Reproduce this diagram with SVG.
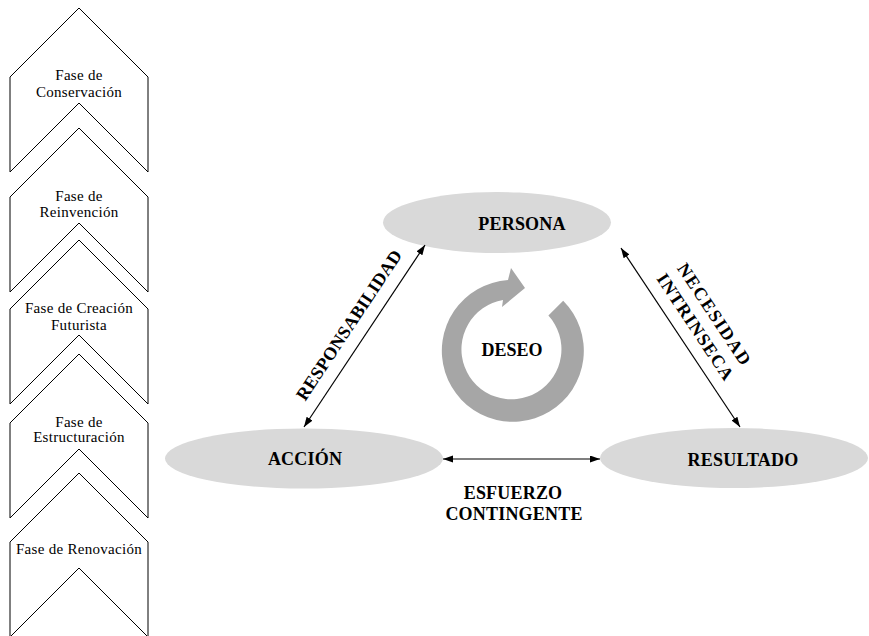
<svg xmlns="http://www.w3.org/2000/svg" width="869" height="636" viewBox="0 0 869 636">
<style>
.chev{fill:#fff;stroke:#000;stroke-width:1}
.ct{font-family:'Liberation Serif','DejaVu Serif',serif;font-size:15px;letter-spacing:0.3px;text-anchor:middle;fill:#000}
.ell{fill:#d9d9d9}
.bt{font-family:'Liberation Serif','DejaVu Serif',serif;font-size:18px;font-weight:bold;letter-spacing:0.2px;text-anchor:middle;fill:#000}
.con{stroke:#000;stroke-width:1.2;fill:none;marker-start:url(#ah);marker-end:url(#ah)}
</style>
<defs>
<marker id="ah" markerUnits="userSpaceOnUse" markerWidth="11" markerHeight="8" refX="10" refY="3.5" orient="auto-start-reverse">
<path d="M0,0 L10,3.5 L0,7 z" fill="#000"/>
</marker>
<polygon id="chevShape" points="69,0 138,69 138,164 69,95 0,164 0,69"/>
</defs>
<rect width="869" height="636" fill="#fff"/>

<g id="fase-conservacion">
<use href="#chevShape" class="chev" x="10" y="8"/>
<text class="ct" x="79" y="80">Fase de</text>
<text class="ct" x="79" y="97">Conservación</text>
</g>
<g id="fase-reinvencion">
<use href="#chevShape" class="chev" x="10" y="128"/>
<text class="ct" x="79" y="201">Fase de</text>
<text class="ct" x="79" y="217">Reinvención</text>
</g>
<g id="fase-creacion">
<use href="#chevShape" class="chev" x="10" y="240"/>
<text class="ct" x="79" y="313">Fase de Creación</text>
<text class="ct" x="79" y="330">Futurista</text>
</g>
<g id="fase-estructuracion">
<use href="#chevShape" class="chev" x="10" y="354"/>
<text class="ct" x="79" y="427">Fase de</text>
<text class="ct" x="79" y="442">Estructuración</text>
</g>
<g id="fase-renovacion">
<use href="#chevShape" class="chev" x="10" y="473"/>
<text class="ct" x="79" y="554">Fase de Renovación</text>
</g>

<g id="persona">
<ellipse class="ell" cx="497" cy="222.5" rx="114" ry="30.5"/>
<text class="bt" x="522" y="230">PERSONA</text>
</g>
<g id="accion">
<ellipse class="ell" cx="304" cy="458.5" rx="139" ry="30"/>
<text class="bt" x="305" y="465">ACCIÓN</text>
</g>
<g id="resultado">
<ellipse class="ell" cx="734" cy="458" rx="134" ry="30"/>
<text class="bt" x="743" y="466">RESULTADO</text>
</g>
<g id="deseo">
<path fill="#a6a6a6" d="M563.2,300.8 A71,71 0 1 1 508,280 L511,268 L525,288 L502,307 L503,300 A50,50 0 1 0 548.4,315.6 Z"/>
<text class="bt" x="512" y="356" style="letter-spacing:0">DESEO</text>
</g>

<g id="connectors">
<line class="con" x1="304" y1="427" x2="425" y2="245"/>
<line class="con" x1="621" y1="248" x2="740" y2="427"/>
<line class="con" x1="443" y1="459" x2="600" y2="459"/>
<text class="bt" transform="translate(349,325) rotate(-56.4)" x="0" y="6">RESPONSABILIDAD</text>
<g transform="translate(705,321) rotate(56.4)">
<text class="bt" x="0" y="-5.4" style="letter-spacing:1.5px">NECESIDAD</text>
<text class="bt" x="0" y="17.4" style="letter-spacing:1.2px">INTRINSECA</text>
</g>
<text class="bt" x="513" y="499">ESFUERZO</text>
<text class="bt" x="514" y="520">CONTINGENTE</text>
</g>
</svg>
